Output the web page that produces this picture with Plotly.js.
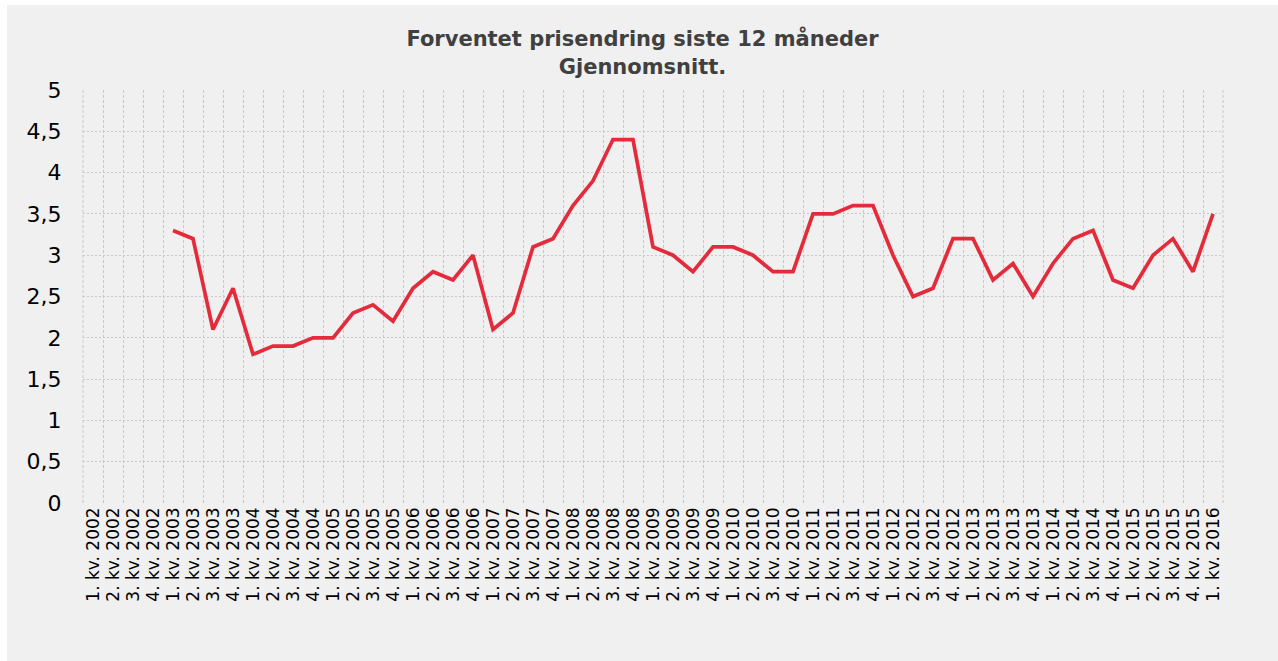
<!DOCTYPE html>
<html>
<head>
<meta charset="utf-8">
<script src="https://cdn.plot.ly/plotly-3.0.1.min.js"></script>
<style>
html,body{margin:0;padding:0;background:#ffffff;}
#chart{position:absolute;left:7px;top:5px;width:1271px;height:656px;}
</style>
</head>
<body>
<div id="chart"></div>
<script>
const quarters = ["1. kv.","2. kv.","3. kv.","4. kv."];
const years = [2002,2003,2004,2005,2006,2007,2008,2009,2010,2011,2012,2013,2014,2015,2016];
const categories = [];
years.forEach(y => quarters.forEach(q => categories.push(q + " " + y)));
categories.length = 57; // ends at 1. kv. 2016

const values = [
  null, null, null, null,
  3.3, 3.2, 2.1, 2.6,
  1.8, 1.9, 1.9, 2.0,
  2.0, 2.3, 2.4, 2.2,
  2.6, 2.8, 2.7, 3.0,
  2.1, 2.3, 3.1, 3.2,
  3.6, 3.9, 4.4, 4.4,
  3.1, 3.0, 2.8, 3.1,
  3.1, 3.0, 2.8, 2.8,
  3.5, 3.5, 3.6, 3.6,
  3.0, 2.5, 2.6, 3.2,
  3.2, 2.7, 2.9, 2.5,
  2.9, 3.2, 3.3, 2.7,
  2.6, 3.0, 3.2, 2.8,
  3.5
];

const trace = {
  type: 'scatter',
  mode: 'lines',
  x: categories,
  y: values,
  line: {color: '#e32b3b', width: 3.7},
  connectgaps: false,
  hoverinfo: 'x+y'
};

const layout = {
  width: 1271,
  height: 656,
  paper_bgcolor: '#f0f0f0',
  plot_bgcolor: '#f0f0f0',
  separators: ', ',
  showlegend: false,
  margin: {l: 76, r: 55, t: 85, b: 158},
  title: {
    text: '<b>Forventet prisendring siste 12 måneder<br>Gjennomsnitt.</b>',
    font: {family: 'DejaVu Sans, Verdana, sans-serif', size: 21, color: '#404040'},
    x: 0.5, xanchor: 'center',
    y: 0.937, yanchor: 'top'
  },
  xaxis: {
    type: 'category',
    range: [-0.5, 56.5],
    tickson: 'boundaries',
    showgrid: true,
    gridcolor: '#c8c8c8',
    griddash: '3px,2px',
    gridwidth: 1,
    ticks: '',
    tickangle: -90,
    tickfont: {family: 'DejaVu Sans, Verdana, sans-serif', size: 17, color: '#000000'},
    showline: false,
    zeroline: false,
    fixedrange: true
  },
  yaxis: {
    range: [0, 5],
    dtick: 0.5,
    tick0: 0,
    showgrid: true,
    gridcolor: '#c8c8c8',
    griddash: '2px,2px',
    gridwidth: 1,
    zeroline: false,
    showline: false,
    ticks: 'outside',
    ticklen: 16,
    tickcolor: 'rgba(0,0,0,0)',
    tickfont: {family: 'DejaVu Sans, Verdana, sans-serif', size: 22, color: '#000000'},
    fixedrange: true
  },
  shapes: [
    {type: 'line', xref: 'paper', yref: 'paper', x0: 1, x1: 1, y0: 0, y1: 1,
     line: {color: '#c8c8c8', width: 1, dash: '3px,2px'}},
    {type: 'line', xref: 'paper', yref: 'paper', x0: 0, x1: 0, y0: 0, y1: 1,
     line: {color: '#c8c8c8', width: 1, dash: '3px,2px'}}
  ]
};

Plotly.newPlot('chart', [trace], layout, {displayModeBar: false, staticPlot: true});
</script>
</body>
</html>
